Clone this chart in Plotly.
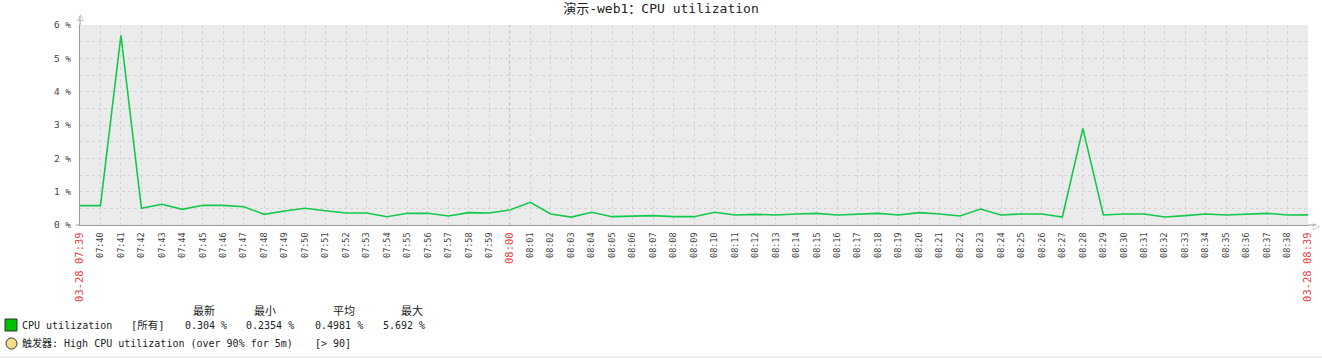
import plotly.graph_objects as go

# ---------------- data ----------------
times = [f"2024-03-28 {h:02d}:{m:02d}:00" for h, m in
         [(7, mm) for mm in range(39, 60)] + [(8, mm) for mm in range(0, 40)]]
cpu_values = [
    0.58, 0.58, 5.692, 0.50, 0.62, 0.47, 0.59, 0.59, 0.55, 0.32,
    0.42, 0.50, 0.43, 0.36, 0.36, 0.25, 0.35, 0.35, 0.27, 0.37,
    0.36, 0.45, 0.68, 0.33, 0.2354, 0.38, 0.25, 0.26, 0.28, 0.25,
    0.25, 0.38, 0.30, 0.32, 0.30, 0.33, 0.35, 0.30, 0.33, 0.35,
    0.30, 0.37, 0.33, 0.27, 0.48, 0.30, 0.33, 0.33, 0.24, 2.90,
    0.30, 0.33, 0.33, 0.24, 0.28, 0.33, 0.30, 0.33, 0.35, 0.30, 0.304,
]
tick_labels = [t[11:16] for t in times]
red_ticks = {0: "03-28 07:39", 21: "08:00", 60: "03-28 08:39"}
stats_header = ["最新", "最小", "平均", "最大"]
stats_values = ["0.304 %", "0.2354 %", "0.4981 %", "5.692 %"]
series_name = "CPU utilization"
trigger_text = "触发器: High CPU utilization (over 90% for 5m)"
trigger_cond = "[> 90]"
title_text = "演示-web1：CPU utilization"

# ---------------- layout helpers ----------------
W, H = 1322, 358
L, R, T, B = 80, 1308, 25, 225
MONO = "DejaVu Sans Mono, Noto Sans CJK SC, monospace"


def px(xp):
    return (xp - L) / (R - L)


def py(yp):
    return (B - yp) / (B - T)


ticktext = []
for i, lab in enumerate(tick_labels):
    if i in red_ticks:
        ticktext.append(f'<span style="color:#e8423f;font-size:10.5px">{red_ticks[i]}</span>')
    else:
        ticktext.append(lab)

fig = go.Figure()
fig.add_trace(go.Scatter(
    x=times, y=cpu_values, mode="lines",
    line=dict(color="#13c84c", width=1.6),
    showlegend=False, hoverinfo="skip",
))

grid_col = "#d4d4d4"
fig.update_layout(
    width=W, height=H,
    margin=dict(l=L, r=W - R, t=T, b=H - B, autoexpand=False),
    paper_bgcolor="white",
    plot_bgcolor="#ebebeb",
    title=dict(text=title_text, x=0.5, xref="container", xanchor="center",
               y=1 - 8 / H, yref="container", yanchor="middle",
               font=dict(family=MONO, size=13, color="#222")),
    xaxis=dict(
        range=[times[0], times[-1]],
        tickmode="array", tickvals=times, ticktext=ticktext,
        tickangle=-90, automargin=False, ticklabelstandoff=3,
        tickfont=dict(family=MONO, size=8.5, color="#444"),
        showgrid=True, gridcolor=grid_col, griddash="dot", gridwidth=1,
        showline=True, linecolor="#9a9a9a", linewidth=1,
        zeroline=False, ticks="", ticklen=0,
    ),
    yaxis=dict(
        range=[0, 6], tickmode="linear", tick0=0, dtick=1, ticksuffix=" %",
        automargin=False, ticklabelstandoff=6,
        tickfont=dict(family=MONO, size=9.5, color="#444"),
        showgrid=True, gridcolor=grid_col, griddash="dot", gridwidth=1,
        minor=dict(dtick=0.5, showgrid=True, gridcolor=grid_col, griddash="dot"),
        showline=True, linecolor="#9a9a9a", linewidth=1,
        zeroline=False, ticks="", ticklen=0,
    ),
)

shapes = []
# slightly darker dashed line at 08:00
shapes.append(dict(type="line", xref="x", yref="paper", x0=times[21], x1=times[21],
                   y0=0, y1=1, line=dict(color="#c2c2c2", width=1, dash="dot")))
# axis extensions
shapes.append(dict(type="line", xref="paper", yref="paper", x0=0, x1=0,
                   y0=1, y1=py(16), line=dict(color="#9a9a9a", width=1)))
shapes.append(dict(type="line", xref="paper", yref="paper", x0=1, x1=px(1316),
                   y0=0, y1=0, line=dict(color="#9a9a9a", width=1)))
# small tick at 0 on the y axis
shapes.append(dict(type="line", xref="paper", yref="paper", x0=px(76), x1=0,
                   y0=0, y1=0, line=dict(color="#9a9a9a", width=1)))
# legend square
shapes.append(dict(type="rect", xref="paper", yref="paper",
                   x0=px(5), x1=px(17), y0=py(331), y1=py(319),
                   fillcolor="#00c000", line=dict(color="#333", width=1)))
# trigger circle
shapes.append(dict(type="circle", xref="paper", yref="paper",
                   x0=px(6), x1=px(17), y0=py(349), y1=py(338),
                   fillcolor="#f3df8a", line=dict(color="#333", width=1)))
# bottom border
shapes.append(dict(type="line", xref="paper", yref="paper", x0=px(0), x1=px(W),
                   y0=py(357), y1=py(357), line=dict(color="#dddddd", width=1)))
fig.update_layout(shapes=shapes)

ann = []
# arrows on axes
ann.append(dict(text="△", xref="paper", yref="paper", x=0, y=py(17),
                showarrow=False, font=dict(size=9, color="#aaa"),
                xanchor="center", yanchor="middle"))
ann.append(dict(text="▷", xref="paper", yref="paper", x=px(1316), y=0,
                showarrow=False, font=dict(size=9, color="#aaa"),
                xanchor="center", yanchor="middle"))

header_x = [204, 265, 344, 412]
for hx, ht in zip(header_x, stats_header):
    ann.append(dict(text=ht, xref="paper", yref="paper", x=px(hx), y=py(311),
                    showarrow=False, xanchor="center", yanchor="middle",
                    font=dict(family=MONO, size=11, color="#222")))

ann.append(dict(text=series_name, xref="paper", yref="paper", x=px(20), y=py(325),
                showarrow=False, xanchor="left", yanchor="middle",
                font=dict(family=MONO, size=10, color="#222")))
ann.append(dict(text="[所有]", xref="paper", yref="paper", x=px(129), y=py(325),
                showarrow=False, xanchor="left", yanchor="middle",
                font=dict(family=MONO, size=10.5, color="#222")))
val_x = [183, 244, 313, 381]
for vx, vt in zip(val_x, stats_values):
    ann.append(dict(text=vt, xref="paper", yref="paper", x=px(vx), y=py(325),
                    showarrow=False, xanchor="left", yanchor="middle",
                    font=dict(family=MONO, size=10, color="#222")))
ann.append(dict(text=trigger_text, xref="paper", yref="paper", x=px(20), y=py(343),
                showarrow=False, xanchor="left", yanchor="middle",
                font=dict(family=MONO, size=10, color="#222")))
ann.append(dict(text=trigger_cond, xref="paper", yref="paper", x=px(313), y=py(343),
                showarrow=False, xanchor="left", yanchor="middle",
                font=dict(family=MONO, size=10, color="#222")))
fig.update_layout(annotations=ann)

fig.write_html("out.html")
